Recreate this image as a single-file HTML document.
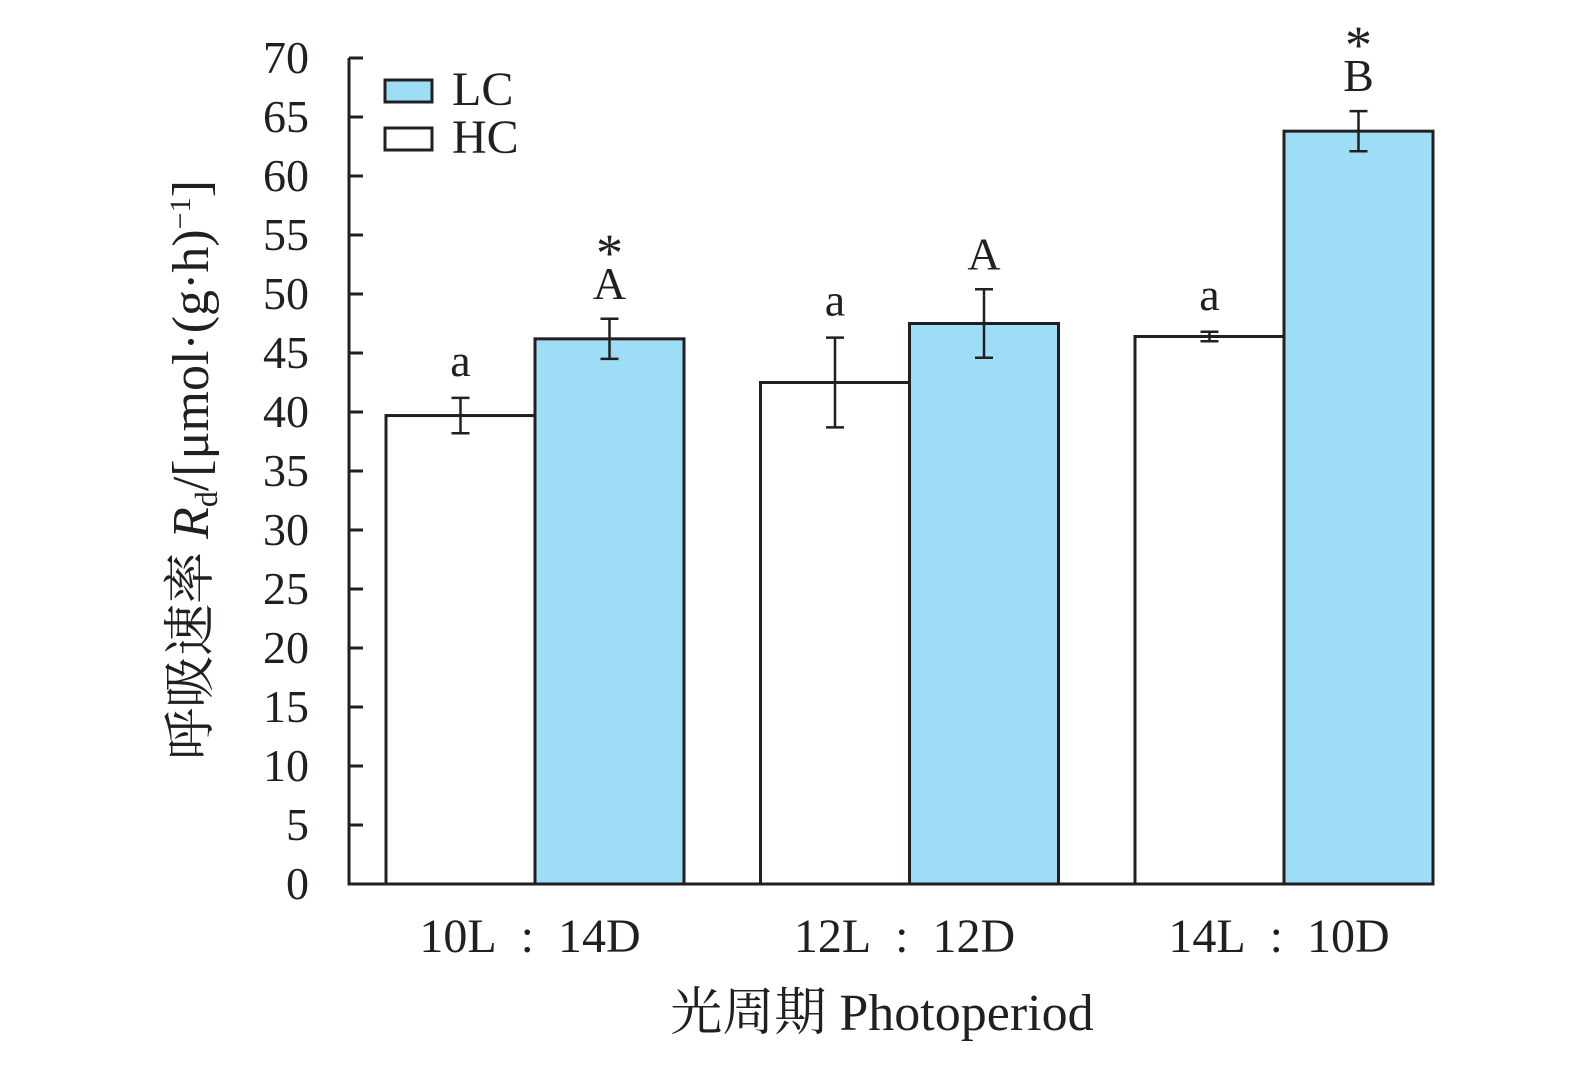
<!DOCTYPE html>
<html><head><meta charset="utf-8"><style>
body{margin:0;background:#fff}
svg text{font-family:"Liberation Serif","Noto Serif CJK SC",serif;fill:#231f20}
</style></head><body>
<svg width="1575" height="1060" viewBox="0 0 1575 1060">
<g id="chart"></g>
</svg>
<script>
const categories=["10L\u2002:\u200214D","12L\u2002:\u200212D","14L\u2002:\u200210D"];
const hcValues=[39.7,42.5,46.4];
const hcErrors=[1.5,3.8,0.4];
const lcValues=[46.2,47.5,63.8];
const lcErrors=[1.7,2.9,1.7];
const hcLetters=["a","a","a"];
const lcLetters=["A","A","B"];
const lcStars=["*","","*"];
const yTicks=[0,5,10,15,20,25,30,35,40,45,50,55,60,65,70];

const NS="http://www.w3.org/2000/svg";
const g=document.getElementById('chart');
const y0=884,pxPerUnit=11.8;
function yScale(v){return y0-v*pxPerUnit;}
function xCenter(i){return 535+i*374.5;}
const bw=149;
function mk(tag,attrs,parent){const e=document.createElementNS(NS,tag);for(const k in attrs)e.setAttribute(k,attrs[k]);(parent||g).appendChild(e);return e;}

function drawBar(i,v,err,fill,left,series){
  const x=left?xCenter(i)-bw:xCenter(i);
  const r=mk('rect',{x:x,y:yScale(v),width:bw,height:y0-yScale(v),fill:fill,stroke:'#231f20','stroke-width':3});
  
  
  const cx=x+bw/2;
  const eg=mk('g',{stroke:'#231f20','stroke-width':2.5});
  
  
  mk('line',{x1:cx,x2:cx,y1:yScale(v+err),y2:yScale(v-err)},eg);
  mk('line',{x1:cx-9,x2:cx+9,y1:yScale(v+err),y2:yScale(v+err)},eg);
  mk('line',{x1:cx-9,x2:cx+9,y1:yScale(v-err),y2:yScale(v-err)},eg);
  return cx;
}
for(let i=0;i<categories.length;i++){
  const cx1=drawBar(i,hcValues[i],hcErrors[i],'#fff',true,'hc');
  const t1=mk('text',{x:cx1,y:yScale(hcValues[i]+hcErrors[i])-22,'text-anchor':'middle','font-size':46});
  t1.textContent=hcLetters[i];
  
  
  const cx2=drawBar(i,lcValues[i],lcErrors[i],'#9ddef6',false,'lc');
  const t2=mk('text',{x:cx2,y:yScale(lcValues[i]+lcErrors[i])-20,'text-anchor':'middle','font-size':46});
  t2.textContent=lcLetters[i];
  
  
  if(lcStars[i]){
    const s=mk('text',{x:cx2,y:yScale(lcValues[i]+lcErrors[i])-48,'text-anchor':'middle','font-size':54});
    s.textContent=lcStars[i];
    
    
  }
  const xl=mk('text',{x:xCenter(i)-5,y:952,'text-anchor':'middle','font-size':48});
  xl.textContent=categories[i];
  
  
}
const ax=mk('path',{d:'M349 '+yScale(70)+' V'+y0+' H'+(xCenter(2)+bw),fill:'none',stroke:'#231f20','stroke-width':3});


yTicks.forEach(v=>{
  const tk=mk('line',{x1:349,x2:363,y1:yScale(v),y2:yScale(v),stroke:'#231f20','stroke-width':3});
  
  
  const tl=mk('text',{x:309,y:yScale(v)+15,'text-anchor':'end','font-size':46});
  tl.textContent=v;
  
  
});
</script>
<svg width="1575" height="1060" style="position:absolute;left:0;top:0">
<g>
<rect x="385" y="80" width="47" height="22" fill="#9ddef6" stroke="#231f20" stroke-width="3"/>
<text x="452" y="105" font-size="48">LC</text>
<rect x="385" y="128" width="47" height="22" fill="#fff" stroke="#231f20" stroke-width="3"/>
<text x="452" y="153" font-size="48">HC</text>
</g>
<text transform="translate(208,470) rotate(-90)" text-anchor="middle" font-size="52">呼吸速率 <tspan font-style="italic">R</tspan><tspan font-size="32" dy="9">d</tspan><tspan dy="-9">/[μmol·(g·h)</tspan><tspan font-size="30" dy="-18">−1</tspan><tspan dy="18">]</tspan></text>
<text x="882" y="1030" text-anchor="middle" font-size="52">光周期 Photoperiod</text>
</svg>
</body></html>
